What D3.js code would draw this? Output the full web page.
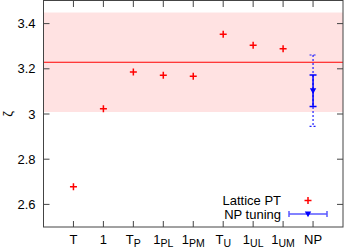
<!DOCTYPE html>
<html><head><meta charset="utf-8">
<script src="https://cdn.jsdelivr.net/npm/d3@7"></script>
<style>body{margin:0;background:#fff}svg{display:block}text{font-family:"Liberation Sans",Arial,sans-serif;font-size:13px;fill:#000}</style>
</head><body><svg id="c" width="344" height="248"></svg>
<script>
const categories = [["T",""],["1",""],["T","P"],["1","PL"],["1","PM"],["T","U"],["1","UL"],["1","UM"],["NP",""]];
const latticeValues = [2.678, 3.023, 3.186, 3.171, 3.167, 3.353, 3.304, 3.289];
const npValue = 3.103, npErrInner = 0.07, npErrOuter = 0.158;
const refValue = 3.229, refErr = 0.22;
const yTicks = [2.6, 2.8, 3.0, 3.2, 3.4];

const svg = d3.select("#c");
const L = 43.5, R = 343, T = 1, B = 227;
const x = d3.scaleLinear().domain([0, 10]).range([L, R]);
const y = d3.scaleLinear().domain([2.5, 3.5]).range([B, T]);

// band
svg.append("rect").attr("x", L).attr("width", R - L)
  .attr("y", y(refValue + refErr)).attr("height", y(refValue - refErr) - y(refValue + refErr))
  .attr("fill", "#ffe2e2");
svg.append("line").attr("x1", L).attr("x2", R).attr("y1", y(refValue)).attr("y2", y(refValue))
  .attr("stroke", "#ff0000").attr("stroke-width", 1.2);

// axes
const tl = 6;
const g = svg.append("g");
yTicks.forEach(v => {
  g.append("line").attr("x1", L).attr("x2", L + tl).attr("y1", y(v)).attr("y2", y(v)).attr("stroke", "#444");
  g.append("line").attr("x1", R - tl).attr("x2", R).attr("y1", y(v)).attr("y2", y(v)).attr("stroke", "#444");
  g.append("text").attr("x", 35.5).attr("y", y(v) + 4.5).attr("text-anchor", "end").text(d3.format("~g")(v));
});
categories.forEach((c, i) => {
  const xx = x(i + 1);
  g.append("line").attr("x1", xx).attr("x2", xx).attr("y1", B).attr("y2", B - tl).attr("stroke", "#444");
  g.append("line").attr("x1", xx).attr("x2", xx).attr("y1", T).attr("y2", T + tl).attr("stroke", "#444");
  const t = g.append("text").attr("y", 244).attr("text-anchor", "middle").attr("x", xx);
  t.append("tspan").text(c[0]);
  if (c[1]) t.append("tspan").attr("dy", 3).attr("font-size", "10.5px").text(c[1]);
});
g.append("rect").attr("x", L).attr("y", T - 0.5).attr("width", R - L).attr("height", B - T + 0.5)
  .attr("fill", "none").attr("stroke", "#444").attr("stroke-width", 1);

svg.append("text").attr("transform", `translate(12,${y(3.0)}) rotate(-90)`).attr("text-anchor", "middle")
  .attr("font-size", "13px").text("ζ");

// lattice points
const cross = (cx, cy, s) => `M${cx - s},${cy}H${cx + s}M${cx},${cy - s}V${cy + s}`;
latticeValues.forEach((v, i) => {
  svg.append("path").attr("d", cross(x(i + 1), y(v), 3.5)).attr("stroke", "#ff0000").attr("stroke-width", 1.5).attr("fill", "none");
});

// NP point
const nx = x(9);
const cap = 3.5;
svg.append("path").attr("d", `M${nx},${y(npValue + npErrOuter)}V${y(npValue - npErrOuter)}M${nx - cap},${y(npValue + npErrOuter)}H${nx + cap}M${nx - cap},${y(npValue - npErrOuter)}H${nx + cap}`)
  .attr("stroke", "#2020ff").attr("stroke-width", 1.2).attr("stroke-dasharray", "2,2").attr("fill", "none");
svg.append("path").attr("d", `M${nx},${y(npValue + npErrInner)}V${y(npValue - npErrInner)}M${nx - cap},${y(npValue + npErrInner)}H${nx + cap}M${nx - cap},${y(npValue - npErrInner)}H${nx + cap}`)
  .attr("stroke", "#0000ff").attr("stroke-width", 1.5).attr("fill", "none");
const tri = (cx, cy, s) => `M${cx - s},${cy - s * 0.8}L${cx + s},${cy - s * 0.8}L${cx},${cy + s}Z`;
svg.append("path").attr("d", tri(nx, y(npValue), 3.2)).attr("fill", "#0000ff");

// legend
svg.append("text").attr("x", 281).attr("y", 204.5).attr("text-anchor", "end").text("Lattice PT");
svg.append("text").attr("x", 281).attr("y", 218.5).attr("text-anchor", "end").text("NP tuning");
svg.append("path").attr("d", cross(308, 200.5, 3.5)).attr("stroke", "#ff0000").attr("stroke-width", 1.5);
svg.append("path").attr("d", `M289,214H327M289,211V217M327,211V217`).attr("stroke", "#5a5aff").attr("stroke-width", 1.5).attr("fill", "none");
svg.append("path").attr("d", tri(308, 214, 3.2)).attr("fill", "#0000ff");
</script></body></html>
